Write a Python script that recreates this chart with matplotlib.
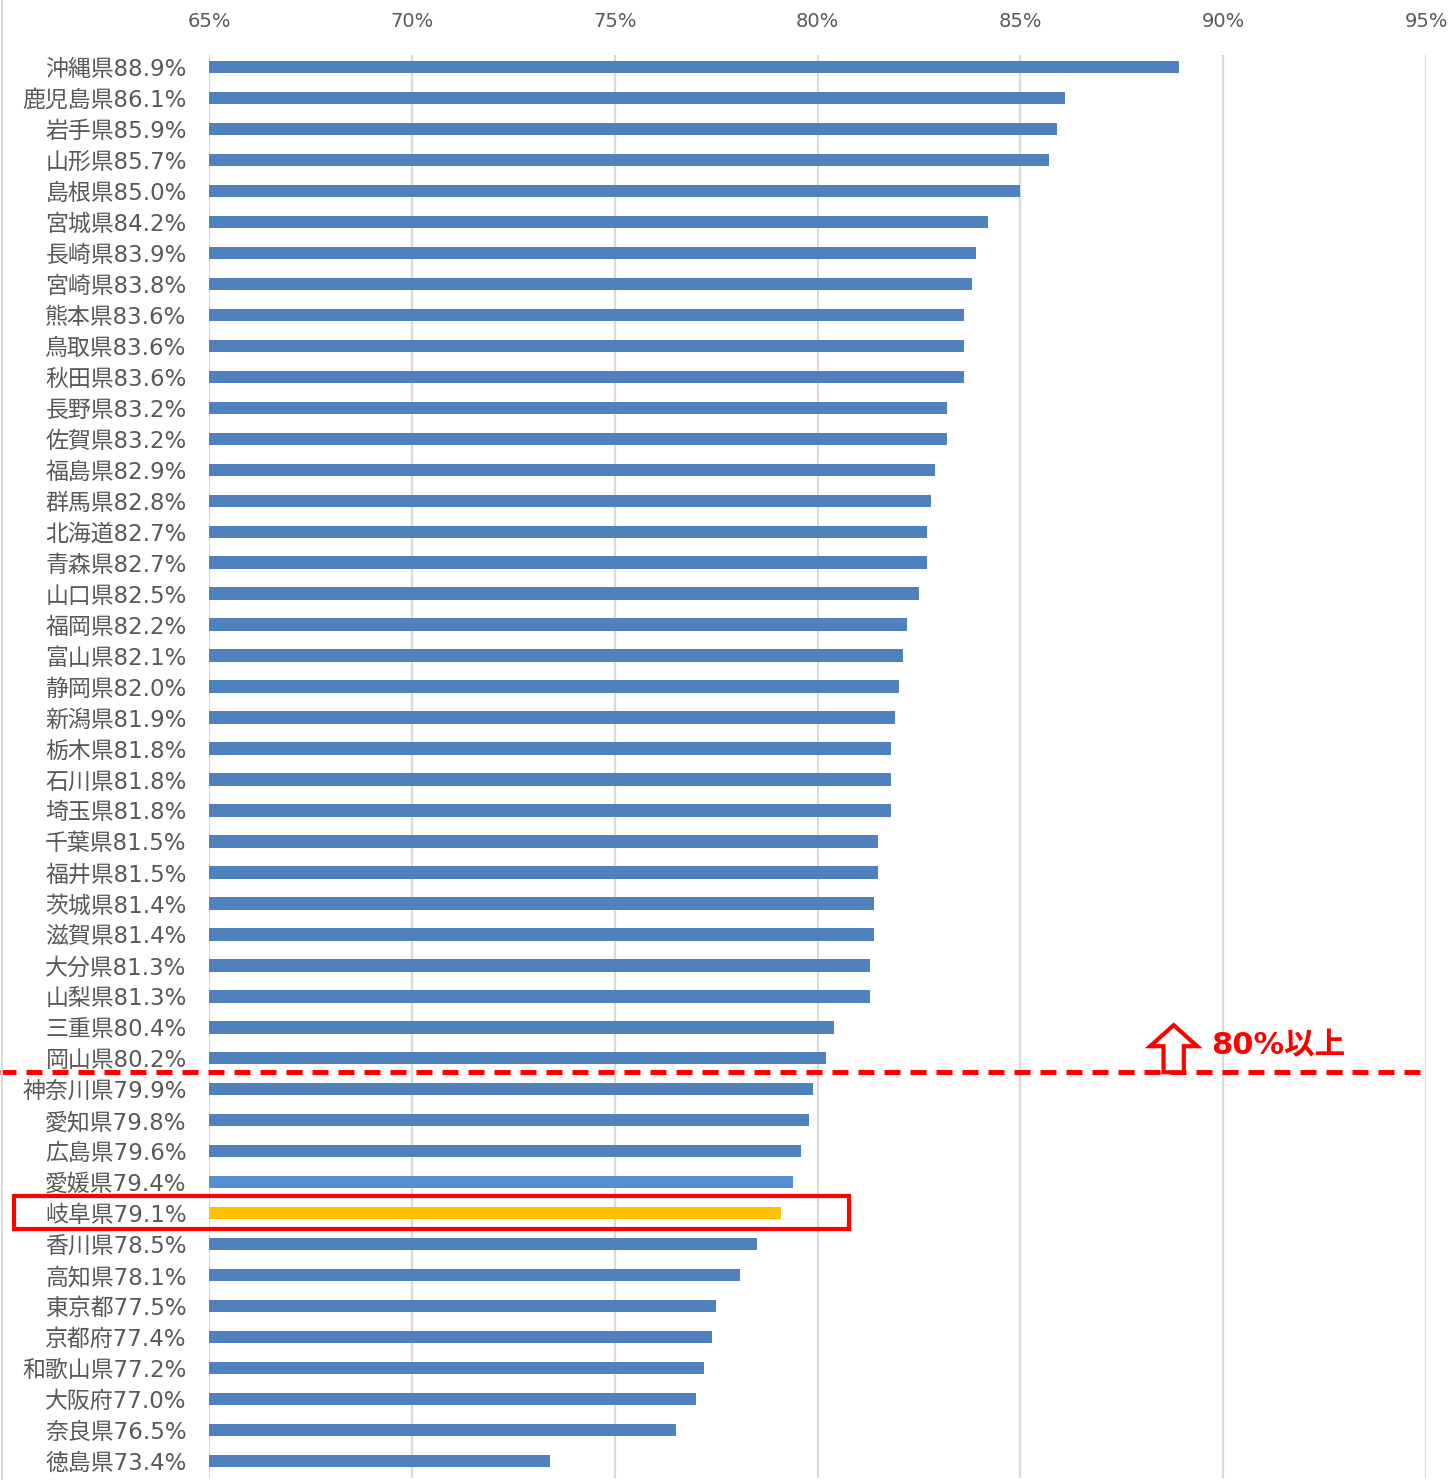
import matplotlib
matplotlib.use("Agg")
import matplotlib.pyplot as plt
from matplotlib.patches import Rectangle, Polygon
from matplotlib.lines import Line2D

# DejaVu first for wide digits, CJK for the kanji
plt.rcParams['font.family'] = ['DejaVu Sans', 'Noto Sans CJK JP']

prefs = ["沖縄県", "鹿児島県", "岩手県", "山形県", "島根県", "宮城県", "長崎県", "宮崎県",
         "熊本県", "鳥取県", "秋田県", "長野県", "佐賀県", "福島県", "群馬県", "北海道",
         "青森県", "山口県", "福岡県", "富山県", "静岡県", "新潟県", "栃木県", "石川県",
         "埼玉県", "千葉県", "福井県", "茨城県", "滋賀県", "大分県", "山梨県", "三重県",
         "岡山県", "神奈川県", "愛知県", "広島県", "愛媛県", "岐阜県", "香川県", "高知県",
         "東京都", "京都府", "和歌山県", "大阪府", "奈良県", "徳島県"]
rates = [88.9, 86.1, 85.9, 85.7, 85.0, 84.2, 83.9, 83.8,
         83.6, 83.6, 83.6, 83.2, 83.2, 82.9, 82.8, 82.7,
         82.7, 82.5, 82.2, 82.1, 82.0, 81.9, 81.8, 81.8,
         81.8, 81.5, 81.5, 81.4, 81.4, 81.3, 81.3, 80.4,
         80.2, 79.9, 79.8, 79.6, 79.4, 79.1, 78.5, 78.1,
         77.5, 77.4, 77.2, 77.0, 76.5, 73.4]
xticks = [65, 70, 75, 80, 85, 90, 95]
threshold = 80
highlight = "岐阜県"
lighter = "愛媛県"

W, H = 1453, 1480
fig = plt.figure(figsize=(W / 100, H / 100), dpi=100)
ax = fig.add_axes([209 / W, 1 - 1478 / H, (1426 - 209) / W, (1478 - 55) / H])

base = 65
ypos = list(range(len(prefs)))
colors = []
for p in prefs:
    if p == highlight:
        colors.append('#FFC000')
    elif p == lighter:
        colors.append('#558ED5')
    else:
        colors.append('#4F81BD')
ax.barh(ypos, [r - base for r in rates], left=base, height=0.4, color=colors, zorder=3)

ax.set_xlim(65, 95)
ax.set_ylim(45.55, -0.39)
ax.set_xticks(xticks)
ax.set_xticklabels([f"{t}%" for t in xticks])
ax.xaxis.tick_top()
ax.tick_params(axis='x', length=0, pad=17, labelsize=14, labelcolor='#595959')
ax.set_yticks(ypos)
ax.set_yticklabels([f"{p}{r:.1f}%" for p, r in zip(prefs, rates)])
ax.tick_params(axis='y', length=0, pad=16, labelsize=16.5, labelcolor='#595959')
ax.grid(axis='x', color='#D9D9D9', linewidth=1.6, zorder=0)
for s in ax.spines.values():
    s.set_visible(False)

# chart border on the left
fig.add_artist(Line2D([2 / W, 2 / W], [0, 1], color='#D9D9D9', linewidth=1.5))

# 80% boundary line
cut = sum(1 for r in rates if r >= threshold) - 0.55
ax.plot([65 - 209 / 40.56, 95], [cut, cut], color='#FF0000', linewidth=3.6,
        linestyle=(0, (3.2, 2.0)), clip_on=False, zorder=5)

# hollow up arrow + label
cx = 88.78
tip, neck, bot = cut - 1.52, cut - 0.84, cut
arrow = Polygon([(cx, tip), (cx + 0.58, neck), (cx + 0.25, neck), (cx + 0.25, bot),
                 (cx - 0.25, bot), (cx - 0.25, neck), (cx - 0.58, neck)],
                closed=True, facecolor='white', edgecolor='#FF0000', linewidth=3,
                joinstyle='miter', clip_on=False, zorder=6)
ax.add_patch(arrow)
ax.text(89.70, cut - 0.87, "80%以上", color='#FF0000', fontsize=22, fontweight='bold',
        va='center', ha='left', zorder=6)

# box around the highlighted prefecture
gi = prefs.index(highlight)
ax.add_patch(Rectangle((60.2, gi - 0.56), 80.78 - 60.2, 1.06, fill=False,
                       edgecolor='#FF0000', linewidth=3, clip_on=False, zorder=6))

fig.savefig("out.png", dpi=100)
